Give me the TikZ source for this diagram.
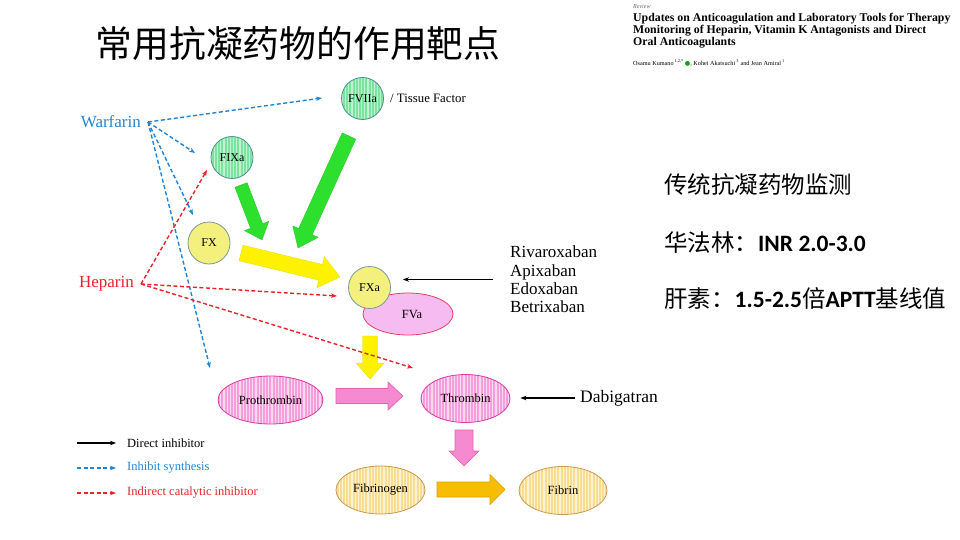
\documentclass[tikz,border=0pt]{standalone}
\usepackage{fontspec}
\setmainfont{Liberation Serif}
\newfontfamily\cjk{Noto Sans CJK SC}
\newfontfamily\carl{Carlito}
\newfontfamily\dejavu{DejaVu Sans}
\usetikzlibrary{arrows.meta,calc,patterns.meta,shapes.geometric}

\definecolor{wblue}{HTML}{2185D5}
\definecolor{hred}{HTML}{E8232B}
\definecolor{gfill}{HTML}{7CE3A0}
\definecolor{gstripe}{HTML}{BDF3CE}
\definecolor{gborder}{HTML}{4F8F95}
\definecolor{yfill}{HTML}{F4F07E}
\definecolor{yborder}{HTML}{7A9A9A}
\definecolor{vfill}{HTML}{F6BBF0}
\definecolor{vborder}{HTML}{E8405E}
\definecolor{pfill}{HTML}{F3A0DA}
\definecolor{pstripe}{HTML}{FCD8F1}
\definecolor{pborder}{HTML}{E03AA5}
\definecolor{ffill}{HTML}{F8DC92}
\definecolor{fstripe}{HTML}{FFF2D2}
\definecolor{fborder}{HTML}{C99A55}
\definecolor{agreen}{HTML}{2EE02E}
\definecolor{ayellow}{HTML}{FFF200}
\definecolor{apink}{HTML}{F58AD0}
\definecolor{apinkb}{HTML}{E461B6}
\definecolor{agold}{HTML}{F7BD00}
\definecolor{agoldb}{HTML}{D9A000}

\newcommand{\blockarrow}[6]{%
  \coordinate (bah) at ($(#3)!#6!(#2)$);
  \filldraw[#1] ($(#2)!#4!90:(#3)$) -- ($(bah)!#4!90:(#3)$) -- ($(bah)!#5!90:(#3)$) -- (#3)
    -- ($(bah)!#5!-90:(#3)$) -- ($(bah)!#4!-90:(#3)$) -- ($(#2)!#4!-90:(#3)$) -- cycle;
}

\tikzset{
  striped/.style n args={2}{preaction={fill=#1},
     preaction={pattern={Lines[angle=90,distance=3.2pt,line width=1.1pt]},pattern color=#2}},
  circbox/.style={circle, minimum size=42pt, inner sep=0, line width=0.8pt,
     font=\fontsize{12}{14}\selectfont},
  greencirc/.style={circbox, striped={gfill}{gstripe}, draw=gborder},
  yellowcirc/.style={circbox, fill=yfill, draw=yborder},
  ellbox/.style={ellipse, minimum width=89pt, minimum height=48pt, inner sep=0,
     line width=0.8pt, font=\fontsize{12.5}{14}\selectfont},
  pinkell/.style={ellbox, striped={pfill}{pstripe}, draw=pborder},
  fibell/.style={ellbox, striped={ffill}{fstripe}, draw=fborder},
  direct/.style={-{Stealth[length=6pt,width=4.5pt]}, line width=1.2pt, black},
  synth/.style={-{Stealth[length=6pt,width=4.5pt]}, line width=1.4pt, wblue,
     dash pattern=on 4pt off 2.5pt},
  indir/.style={-{Stealth[length=6pt,width=4.5pt]}, line width=1.4pt, hred,
     dash pattern=on 4pt off 2.5pt},
  drug/.style={font=\fontsize{17}{20}\selectfont, inner sep=0},
  legtext/.style={anchor=west, inner sep=0, font=\fontsize{12.5}{14}\selectfont},
  cjktext/.style={anchor=west, inner sep=0, font=\cjk\fontsize{23.5}{26}\selectfont},
}

\begin{document}
\begin{tikzpicture}[x=1pt,y=-1pt]
\useasboundingbox (0,0) rectangle (960,540);
\fill[white] (0,0) rectangle (960,540);

% title
\node[font=\cjk\fontsize{36.8}{40}\selectfont, inner sep=0] (title) at (298,43) {常用抗凝药物的作用靶点};

% paper reference
\node[anchor=west, inner sep=0, font=\itshape\fontsize{6}{7}\selectfont, text=black!60] (rev) at (633,7) {Review};
\node[anchor=north west, align=left, inner sep=0, font=\bfseries\fontsize{11.8}{12.2}\selectfont] (ptitle) at (633,13)
  {Updates on Anticoagulation and Laboratory Tools for Therapy\\Monitoring of Heparin, Vitamin K Antagonists and Direct\\Oral Anticoagulants};
\node[anchor=west, inner sep=0, font=\fontsize{6.2}{7}\selectfont] (auth) at (633,63)
  {Osamu Kumano\,\textsuperscript{1,2,*}\,{\dejavu\color{green!65!black}●}, Kohei Akatsuchi\,\textsuperscript{3} and Jean Amiral\,\textsuperscript{1}};

% right text
\node[cjktext] (mon) at (664,185) {传统抗凝药物监测};
\node[cjktext] (war2) at (664,243) {华法林：{\carl\bfseries INR 2.0-3.0}};
\node[cjktext] (hep2) at (664,298) {肝素：{\carl\bfseries 1.5-2.5}倍{\carl\bfseries APTT}基线值};

% drugs
\node[drug, anchor=east, text=wblue] (warf) at (141,122) {Warfarin};
\node[drug, anchor=east, text=hred] (hep) at (134,284) {Heparin};
\coordinate (wsrc) at ([xshift=7pt]warf.east);
\coordinate (hsrc) at ([xshift=7pt]hep.east);

% factor nodes
\node[greencirc] (fviia) at (362.5,98.5) {FVIIa};
\node[anchor=west, inner sep=0, font=\fontsize{12.8}{14}\selectfont] (tf) at (390,98) {/ Tissue Factor};
\node[greencirc] (fixa) at (232,157.5) {FIXa};
\node[yellowcirc] (fx) at (209,243) {FX};
\node[ellbox, minimum width=90pt, minimum height=42pt, fill=vfill, draw=vborder] (fva) at (408,314) {\hspace*{8pt}FVa};
\node[yellowcirc] (fxa) at (369.5,287.5) {FXa};
\node[pinkell, minimum width=105pt] (pro) at (270.5,400) {Prothrombin};
\node[pinkell] (thr) at (465.5,398.5) {Thrombin};
\node[fibell] (fbg) at (380.5,490) {Fibrinogen};
\node[fibell, minimum width=88pt] (fbn) at (563,490.5) {Fibrin};

% block arrows
\coordinate (ga1s) at (241,185); \coordinate (ga1e) at (262,240);
\blockarrow{agreen, draw=agreen!85!black, line width=0.3pt}{ga1s}{ga1e}{6.5pt}{13pt}{15pt}
\coordinate (ga2s) at (349,136); \coordinate (ga2e) at (298,248);
\blockarrow{agreen, draw=agreen!85!black, line width=0.3pt}{ga2s}{ga2e}{7.5pt}{14pt}{18pt}
\coordinate (ya1s) at (241,253); \coordinate (ya1e) at (340,277);
\blockarrow{ayellow, draw=ayellow!90!black, line width=0.3pt}{ya1s}{ya1e}{8pt}{16pt}{20pt}
\coordinate (ya2s) at (370,336); \coordinate (ya2e) at (370,379);
\blockarrow{ayellow, draw=ayellow!90!black, line width=0.3pt}{ya2s}{ya2e}{7.5pt}{14pt}{16pt}
\coordinate (pa1s) at (336,396); \coordinate (pa1e) at (403,396);
\blockarrow{apink, draw=apinkb, line width=0.6pt}{pa1s}{pa1e}{7.5pt}{14pt}{15pt}
\coordinate (pa2s) at (464,430); \coordinate (pa2e) at (464,466);
\blockarrow{apink, draw=apinkb, line width=0.6pt}{pa2s}{pa2e}{9pt}{15pt}{15pt}
\coordinate (oa1s) at (437,489.5); \coordinate (oa1e) at (505,489.5);
\blockarrow{agold, draw=agoldb, line width=0.6pt}{oa1s}{oa1e}{7.5pt}{15pt}{15pt}

% warfarin arrows (inhibit synthesis)
\coordinate (tw1) at (322,98);
\coordinate (tw2) at (195,153);
\coordinate (tw3) at (193,215);
\coordinate (tw4) at (210,368);
\draw[synth] (wsrc) -- (tw1);
\draw[synth] (wsrc) -- (tw2);
\draw[synth] (wsrc) -- (tw3);
\draw[synth] (wsrc) -- (tw4);

% heparin arrows (indirect catalytic)
\coordinate (th1) at (207,170);
\coordinate (th2) at (337,296);
\coordinate (th3) at (413,368);
\draw[indir] (hsrc) -- (th1);
\draw[indir] (hsrc) -- (th2);
\draw[indir] (hsrc) -- (th3);

% direct inhibitors
\node[drug, anchor=west, align=left, font=\fontsize{17}{18.3}\selectfont] (xa) at (510,279.5)
  {Rivaroxaban\\Apixaban\\Edoxaban\\Betrixaban};
\draw[direct, shorten <=17pt, shorten >=12pt] (xa.west) -- (xa.west -| fxa.east);
\node[drug, anchor=west, font=\fontsize{17.5}{20}\selectfont] (dabi) at (580,398) {Dabigatran};
\draw[direct, shorten <=5pt, shorten >=10pt] (dabi.west) -- (dabi.west -| thr.east);

% legend
\coordinate (l1a) at (77,443); \coordinate (l1b) at (116,443);
\coordinate (l2a) at (77,468); \coordinate (l2b) at (116,468);
\coordinate (l3a) at (77,493); \coordinate (l3b) at (116,493);
\draw[direct] (l1a) -- (l1b);
\draw[synth] (l2a) -- (l2b);
\draw[indir] (l3a) -- (l3b);
\node[legtext] (lg1) at (127,443) {Direct inhibitor};
\node[legtext, text=wblue] (lg2) at (127,468) {Inhibit synthesis};
\node[legtext, text=hred] (lg3) at (127,493) {Indirect catalytic inhibitor};
\end{tikzpicture}
\end{document}
